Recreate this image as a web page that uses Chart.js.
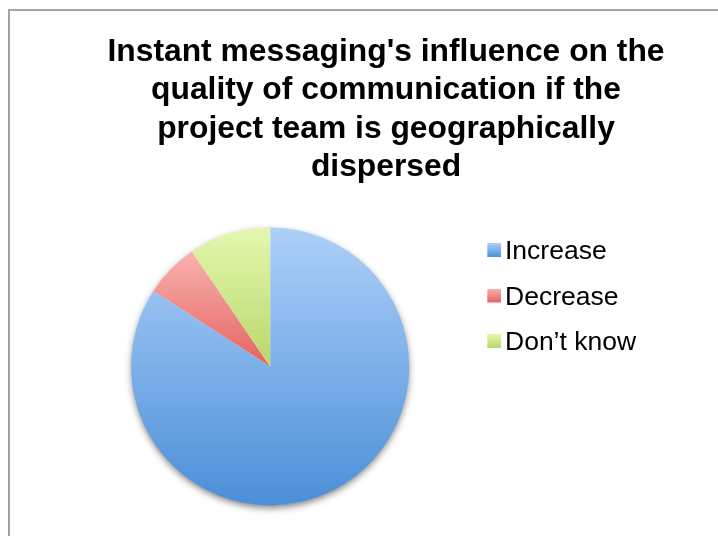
<!DOCTYPE html>
<html>
<head>
<meta charset="utf-8">
<script src="https://cdn.jsdelivr.net/npm/chart.js@4/dist/chart.umd.min.js"></script>
<style>
  html, body { margin: 0; padding: 0; background: #ffffff; overflow: hidden; width: 718px; height: 536px; }
  #frame { position: absolute; left: 8px; top: 9px; width: 900px; height: 700px;
           border-left: 2px solid #a3a3a3; border-top: 2px solid #a3a3a3; box-sizing: border-box; }
  #wrap { position: absolute; left: 0; top: 0; width: 718px; height: 536px; }
</style>
</head>
<body>
<div id="frame"></div>
<div id="wrap"><canvas id="c" width="718" height="536" style="width:718px;height:536px"></canvas></div>
<script>
// ---- data ----
const titleLines = [
  "Instant messaging's influence on the",
  "quality of communication if the",
  "project team is geographically",
  "dispersed"
];
const categories = ['Increase', 'Decrease', 'Don\u2019t know'];
const responses = [53, 4, 6];

// ---- styles ----
const sliceTop = ['#aed0fa', '#fab3b0', '#e3f8ae'];
const sliceBottom = ['#4b8fd8', '#e4635f', '#bad66c'];

Chart.defaults.font.family = '"Liberation Sans", Arial, Helvetica, sans-serif';
Chart.defaults.color = '#000000';

function sliceGradient(c) {
  const chart = c.chart;
  const area = chart.chartArea;
  const i = c.dataIndex;
  if (!area || i === undefined) return sliceBottom[i || 0];
  const cx = (area.left + area.right) / 2;
  const cy = (area.top + area.bottom) / 2;
  const r = Math.min(area.width, area.height) / 2;
  const data = chart.data.datasets[0].data;
  const total = data.reduce((a, b) => a + b, 0);
  let start = -Math.PI / 2;
  for (let k = 0; k < i; k++) start += data[k] / total * Math.PI * 2;
  const end = start + data[i] / total * Math.PI * 2;
  const ys = [cy, cy + r * Math.sin(start), cy + r * Math.sin(end)];
  [-Math.PI / 2, Math.PI / 2, Math.PI * 1.5].forEach(a => {
    if (a >= start - 1e-9 && a <= end + 1e-9) ys.push(cy + r * Math.sin(a));
  });
  const y0 = Math.min(...ys), y1 = Math.max(...ys);
  const g = chart.ctx.createLinearGradient(0, y0, 0, y1);
  g.addColorStop(0, sliceTop[i]);
  g.addColorStop(1, sliceBottom[i]);
  return g;
}

// legend icons: gradient squares
const icons = categories.map((_, i) => {
  const cv = document.createElement('canvas');
  cv.width = 20; cv.height = 18;
  const x = cv.getContext('2d');
  const g = x.createLinearGradient(0, 0, 0, 14);
  g.addColorStop(0, sliceTop[i]);
  g.addColorStop(1, sliceBottom[i]);
  x.fillStyle = g;
  x.fillRect(6, 0, 14, 14);
  return cv;
});

const pieShadow = {
  id: 'pieShadow',
  beforeDatasetsDraw(chart) {
    const arc = chart.getDatasetMeta(0).data[0];
    if (!arc) return;
    const p = arc.getProps(['x', 'y', 'outerRadius'], true);
    const ctx = chart.ctx;
    ctx.save();
    ctx.shadowColor = 'rgba(0,0,0,0.5)';
    ctx.shadowBlur = 7;
    ctx.shadowOffsetY = 3;
    ctx.fillStyle = '#ffffff';
    ctx.beginPath();
    ctx.arc(p.x, p.y, p.outerRadius - 0.5, 0, Math.PI * 2);
    ctx.fill();
    ctx.restore();
  }
};

// the title is centred across the whole (clipped) chart frame, not just the canvas
const frameTitle = {
  id: 'frameTitle',
  afterLayout(chart, args, opts) {
    const t = chart.titleBlock;
    if (!t) return;
    t.left = opts.left;
    t.right = opts.right;
    t.width = opts.right - opts.left;
  }
};

new Chart(document.getElementById('c'), {
  type: 'pie',
  data: {
    labels: categories,
    datasets: [{
      data: responses,
      backgroundColor: sliceGradient,
      borderWidth: 0,
      hoverBorderWidth: 0,
      hoverOffset: 0,
      offset: 0
    }]
  },
  plugins: [pieShadow, frameTitle],
  options: {
    responsive: false,
    animation: false,
    devicePixelRatio: 1,
    layout: { padding: { left: 68.6, right: 71.9, top: 0, bottom: 30.6 } },
    plugins: {
      tooltip: { enabled: false },
      frameTitle: { left: 8, right: 764 },
      title: {
        display: true,
        text: titleLines,
        color: '#000000',
        font: { size: 31.8, weight: 'bold', lineHeight: 1.21 },
        padding: { top: 33, bottom: 40.5 }
      },
      legend: {
        display: true,
        position: 'right',
        align: 'start',
        title: { display: true, text: '', font: { size: 10, lineHeight: 1.2 }, padding: { top: 207.75, bottom: 0 } },
        labels: {
          font: { size: 26.5 },
          color: '#000000',
          padding: 19,
          usePointStyle: true,
          boxWidth: 1,
          generateLabels(chart) {
            const items = Chart.overrides.doughnut.plugins.legend.labels.generateLabels(chart);
            items.forEach((it, i) => { it.pointStyle = icons[i]; });
            return items;
          }
        }
      }
    }
  }
});
</script>
</body>
</html>
